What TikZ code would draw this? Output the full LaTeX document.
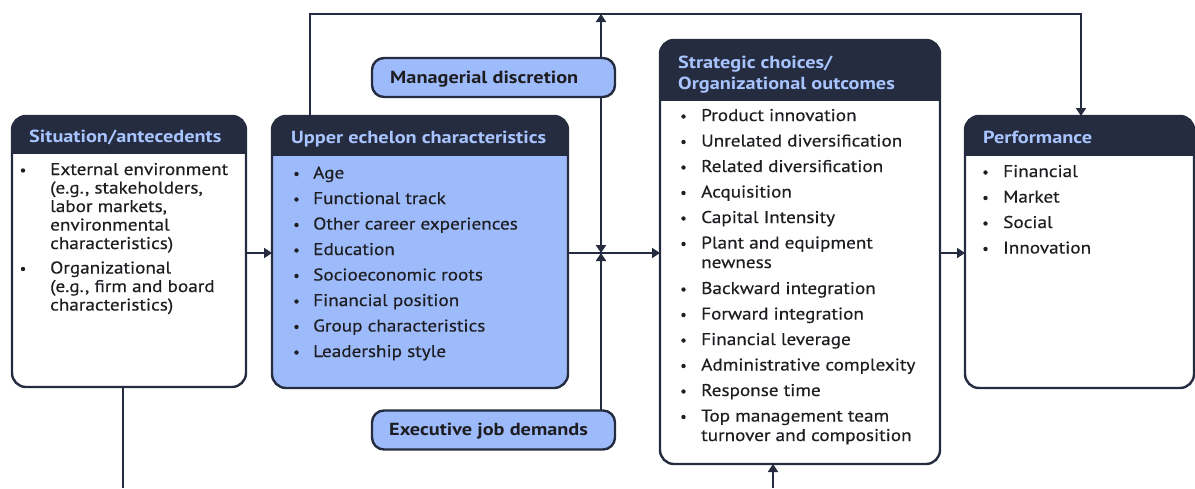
\documentclass[tikz,border=0pt]{standalone}
\usepackage{fontspec}
\setmainfont{PT Sans}
\newfontfamily\itemfont{PT Sans}[FakeBold=0.4, FakeStretch=1.13]
\newfontfamily\headfont{PT Sans Bold}[FakeStretch=1.16]
\usetikzlibrary{arrows.meta}

\definecolor{navy}{RGB}{38,44,64}
\definecolor{hdrtext}{RGB}{168,196,255}
\definecolor{uefill}{RGB}{157,186,250}
\definecolor{inkclr}{RGB}{30,30,34}

% panel: name, left, top, right, bottom, header bottom, body colour
\newcommand\panel[7]{%
  \node[panelbody, fill=#7, minimum width={#4-#2}, minimum height={#5-#3},
        anchor=north west] (#1) at (#2,#3) {};
  \begin{scope}
    \clip[rounded corners=14pt] (#2,#3) rectangle (#4,#5);
    \fill[navy] (#2,#3) rectangle (#4,#6);
  \end{scope}
  \draw[border, rounded corners=14pt] (#2,#3) rectangle (#4,#5);
}

\begin{document}
\begin{tikzpicture}[x=1pt, y=-1pt,
  panelbody/.style={rectangle, inner sep=0pt, outer sep=0pt, rounded corners=14pt},
  border/.style={draw=navy, line width=2.4pt},
  modbox/.style={rectangle, draw=navy, line width=2.4pt, fill=uefill,
                 rounded corners=12pt, inner sep=0pt, outer sep=0pt,
                 minimum width=243pt, minimum height=39pt, anchor=north west},
  hdr/.style={anchor=mid west, inner sep=0pt, yshift=-3.5pt, text=hdrtext,
              font=\fontsize{17.5}{20.5}\headfont},
  itm/.style={anchor=mid west, inner sep=0pt, yshift=-3.5pt, text=inkclr,
              font=\fontsize{17}{20}\itemfont},
  dot/.style={circle, fill=inkclr, inner sep=0pt, minimum size=4.4pt},
  modtext/.style={anchor=mid west, inner sep=0pt, yshift=-3pt, text=inkclr,
              font=\fontsize{17.5}{20}\headfont},
  conn/.style={draw=navy, line width=2.4pt},
  arr/.style={conn, -{Triangle[length=8pt,width=10pt]}}]

\useasboundingbox (0,0) rectangle (1195,488);

% reference lines for the connectors
\coordinate (mainy) at (0,253);
\coordinate (topL) at (310,14);
\coordinate (topR) at (1081,14);
\coordinate (modx) at (601,14);
\coordinate (sitx) at (123,488);
\coordinate (strx) at (773,488);

% feedback loop over the top and the moderator line (drawn under the boxes)
\draw[arr] (310,117) -- (topL) -- (topR) -- (1081,116);
\draw[arr] (601,59) -- (modx);

% panels
\panel{sit}{12}{116}{246}{387}{154}{white}
\panel{ue}{272}{116}{568}{388}{156}{uefill}
\panel{str}{660}{40}{940}{464}{101}{white}
\panel{perf}{965}{116}{1194}{388}{156}{white}

% moderator boxes
\node[modbox] (md) at (372,58) {};
\node[modbox] (ej) at (372,410.5) {};
\node[modtext] (mdt) at (390,77.5) {Managerial discretion};
\node[modtext] (ejt) at (389,430) {Executive job demands};

% main flow
\draw[arr] (sit.east |- mainy) -- (ue.west |- mainy);
\draw[arr] (ue.east |- mainy) -- (str.west |- mainy);
\draw[arr] (str.east |- mainy) -- (perf.west |- mainy);

% moderating effects on the main flow
\draw[arr] (md.south -| modx) -- (modx |- mainy);
\draw[arr] (ej.north -| modx) -- (modx |- mainy);

% lines leaving the bottom
\draw[conn] (sit.south -| sitx) -- (sitx);
\draw[arr] (strx) -- (str.south -| strx);

% headers
\node[hdr] (sith) at (29,136) {Situation/antecedents};
\node[hdr] (ueh) at (291,137) {Upper echelon characteristics};
\node[hdr, align=left, anchor=west] (strh) at (678,71)
  {Strategic choices/\\Organizational outcomes};
\node[hdr] (perfh) at (983,137) {Performance};

% situation/antecedents
\node[dot] (sb1) at (23,170.5) {};
\node[itm] (s1) at (50,169) {External environment};
\node[itm] (s2) at (50,187.5) {(e.g., stakeholders,};
\node[itm] (s3) at (50,206) {labor markets,};
\node[itm] (s4) at (50,224.5) {environmental};
\node[itm] (s5) at (50,243) {characteristics)};
\node[dot] (sb2) at (23,269) {};
\node[itm] (s6) at (50,267.5) {Organizational};
\node[itm] (s7) at (50,286) {(e.g., firm and board};
\node[itm] (s8) at (50,304.5) {characteristics)};

% upper echelon characteristics
\foreach \y/\t [count=\i] in {172.5/Age, 198/Functional track,
    223.5/Other career experiences, 249/Education, 274.5/Socioeconomic roots,
    300/Financial position, 325.5/Group characteristics, 351/Leadership style}{
  \node[dot] (ub\i) at (296.5,\y+1.5) {};
  \node[itm] (u\i) at (313,\y) {\t};
}

% strategic choices / organizational outcomes
\foreach \y/\t [count=\i] in {115/Product innovation, 140.5/Unrelated diversification,
    166/Related diversification, 191.5/Acquisition, 217/Capital Intensity,
    242.5/Plant and equipment, 288/Backward integration, 313.5/Forward integration,
    339/Financial leverage, 364.5/Administrative complexity, 390/Response time,
    415.5/Top management team}{
  \node[dot] (cb\i) at (683.5,\y+1.5) {};
  \node[itm] (c\i) at (701,\y) {\t};
}
\node[itm] (c6b) at (701,262) {newness};
\node[itm] (c12b) at (701,435) {turnover and composition};

% performance
\foreach \y/\t [count=\i] in {171/Financial, 196.5/Market, 222/Social, 247.5/Innovation}{
  \node[dot] (pb\i) at (985.5,\y+1.5) {};
  \node[itm] (p\i) at (1003,\y) {\t};
}

\end{tikzpicture}
\end{document}
